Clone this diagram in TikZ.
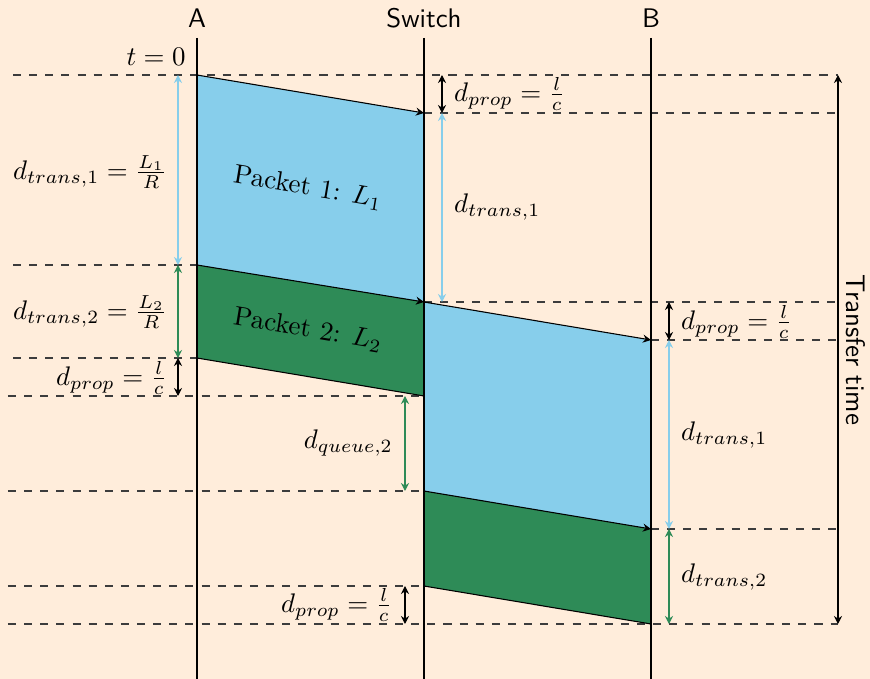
\documentclass[tikz,border=0pt]{standalone}
\usetikzlibrary{arrows.meta}
\definecolor{bgc}{RGB}{255,237,219}
\definecolor{pktone}{RGB}{135,206,235}
\definecolor{pkttwo}{RGB}{46,139,87}
\definecolor{dashc}{RGB}{60,60,60}
\begin{document}
\begin{tikzpicture}[x=0.372pt,y=-0.372pt,
  tip/.style={-{Stealth[length=3pt,width=3pt,inset=1pt]}},
  dim/.style={{Stealth[length=3pt,width=3pt,inset=1pt]}-{Stealth[length=3pt,width=3pt,inset=1pt]}},
  guide/.style={dashed,draw=dashc},
  hdr/.style={font=\sffamily},
  lab/.style={inner sep=1pt}]
\useasboundingbox (0,0) rectangle (870,679);
\fill[bgc] (0,0) rectangle (870,679);
% key points
\coordinate (a0) at (197,75);  \coordinate (a1) at (197,265); \coordinate (a2) at (197,358);
\coordinate (s0) at (424,113); \coordinate (s1) at (424,302); \coordinate (s2) at (424,396);
\coordinate (s3) at (424,491); \coordinate (s4) at (424,586);
\coordinate (b0) at (651,340); \coordinate (b1) at (651,529); \coordinate (b2) at (651,624);
% packets
\fill[pktone] (a0) -- (s0) -- (s1) -- (a1) -- cycle;
\fill[pkttwo] (a1) -- (s1) -- (s2) -- (a2) -- cycle;
\fill[pktone] (s1) -- (b0) -- (b1) -- (s3) -- cycle;
\fill[pkttwo] (s3) -- (b1) -- (b2) -- (s4) -- cycle;
% guide lines
\coordinate (g0l) at (13,75);   \coordinate (g0r) at (838,75);
\coordinate (g1r) at (838,113);
\coordinate (g2l) at (13,265);
\coordinate (g3r) at (838,302);
\coordinate (g4r) at (838,340);
\coordinate (g5l) at (13,358);
\coordinate (g6l) at (8,396);
\coordinate (g7l) at (8,491);
\coordinate (g8r) at (838,529);
\coordinate (g9l) at (8,586);
\coordinate (g10l) at (8,624); \coordinate (g10r) at (838,624);
\draw[guide] (g0l) -- (g0r);
\draw[guide] (s0) -- (g1r);
\draw[guide] (g2l) -- (a1);
\draw[guide] (s1) -- (g3r);
\draw[guide] (b0) -- (g4r);
\draw[guide] (g5l) -- (a2);
\draw[guide] (g6l) -- (s2);
\draw[guide] (g7l) -- (s3);
\draw[guide] (b1) -- (g8r);
\draw[guide] (g9l) -- (s4);
\draw[guide] (g10l) -- (g10r);
% vertical lines
\node[hdr] (A) at (197,18) {A};
\node[hdr] (S) at (424,18) {Switch};
\node[hdr] (B) at (651,18) {B};
\coordinate (At) at (197,38); \coordinate (Ab) at (197,679);
\coordinate (St) at (424,38); \coordinate (Sb) at (424,679);
\coordinate (Bt) at (651,38); \coordinate (Bb) at (651,679);
\draw (At) -- (Ab);
\draw (St) -- (Sb);
\draw (Bt) -- (Bb);
% packet edges
\draw[tip] (a0) -- (s0);
\draw[tip] (a1) -- (s1);
\draw (a2) -- (s2);
\draw[tip] (s1) -- (b0);
\draw[tip] (s3) -- (b1);
\draw (s4) -- (b2);
% labels
\node[anchor=east] (t0) at (195,57) {$t=0$};
\node[rotate=-9.5] (p1) at (308,188) {Packet 1: $L_1$};
\node[rotate=-9.5] (p2) at (308,330) {Packet 2: $L_2$};
% dimension arrows at A
\coordinate (da0) at (178,75); \coordinate (da1) at (178,265);
\coordinate (da2) at (178,358); \coordinate (da3) at (178,396);
\draw[dim,pktone] (da0) -- (da1);
\draw[dim,pkttwo] (da1) -- (da2);
\draw[dim] (da2) -- (da3);
\node[lab] (la1) at (90,172) {$d_{trans,1}=\frac{L_1}{R}$};
\node[lab] (la2) at (90,312) {$d_{trans,2}=\frac{L_2}{R}$};
\node[lab,anchor=east] (la3) at (170,378) {$d_{prop}=\frac{l}{c}$};
% dimension arrows at switch
\coordinate (ds0) at (442,75); \coordinate (ds1) at (442,113); \coordinate (ds2) at (442,302);
\draw[dim] (ds0) -- (ds1);
\draw[dim,pktone] (ds1) -- (ds2);
\node[lab,anchor=west] (ls1) at (451,94) {$d_{prop}=\frac{l}{c}$};
\node[lab,anchor=west] (ls2) at (451,207) {$d_{trans,1}$};
\coordinate (dq0) at (405,396); \coordinate (dq1) at (405,491);
\draw[dim,pkttwo] (dq0) -- (dq1);
\node[lab,anchor=east] (lq) at (396,443) {$d_{queue,2}$};
\coordinate (dp0) at (405,586); \coordinate (dp1) at (405,624);
\draw[dim] (dp0) -- (dp1);
\node[lab,anchor=east] (lp) at (395,605) {$d_{prop}=\frac{l}{c}$};
% dimension arrows at B
\coordinate (db0) at (669,302); \coordinate (db1) at (669,340);
\coordinate (db2) at (669,529); \coordinate (db3) at (669,624);
\draw[dim] (db0) -- (db1);
\draw[dim,pktone] (db1) -- (db2);
\draw[dim,pkttwo] (db2) -- (db3);
\node[lab,anchor=west] (lb1) at (678,322) {$d_{prop}=\frac{l}{c}$};
\node[lab,anchor=west] (lb2) at (678,435) {$d_{trans,1}$};
\node[lab,anchor=west] (lb3) at (678,577) {$d_{trans,2}$};
% transfer time
\coordinate (tt0) at (838,75); \coordinate (tt1) at (838,624);
\draw[dim] (tt0) -- (tt1);
\node[hdr,rotate=-90] (tt) at (856,350) {Transfer time};
\end{tikzpicture}
\end{document}
